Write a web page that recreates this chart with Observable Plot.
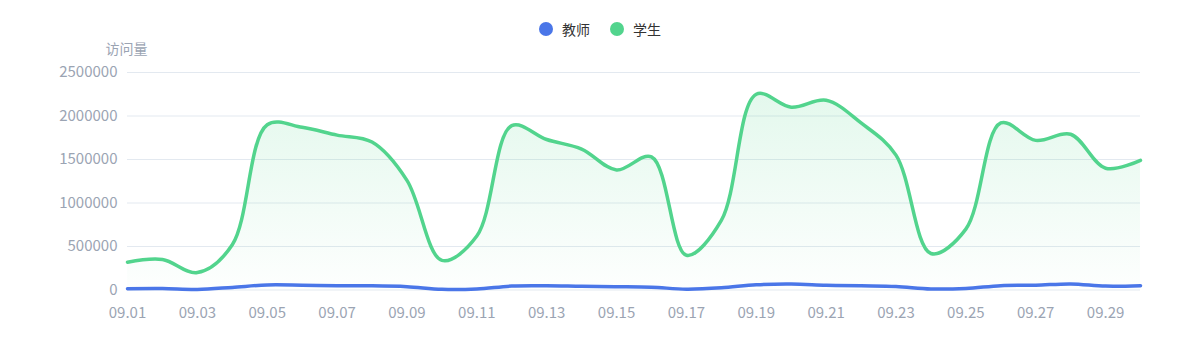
<!DOCTYPE html>
<html>
<head>
<meta charset="utf-8">
<script src="https://cdn.jsdelivr.net/npm/d3@7"></script>
<script src="https://cdn.jsdelivr.net/npm/@observablehq/plot@0.6"></script>
<style>
  html, body { margin: 0; padding: 0; background: #fff; }
  body { width: 1200px; height: 360px; overflow: hidden; font-family: "Noto Sans CJK SC", "Noto Sans", sans-serif; }
  #legend { height: 36px; display: flex; justify-content: center; align-items: flex-start; box-sizing: border-box; font-size: 14px; color: #333; }
  .item { display: flex; align-items: center; margin: 0 10px; margin-top: 22px; height: 14px; line-height: 14px; }
  .dot { width: 14px; height: 14px; border-radius: 50%; margin-right: 9px; }
</style>
</head>
<body>
<div id="legend"></div>
<div id="chart"></div>
<script>
const dates = ["09.01","09.02","09.03","09.04","09.05","09.06","09.07","09.08","09.09","09.10",
               "09.11","09.12","09.13","09.14","09.15","09.16","09.17","09.18","09.19","09.20",
               "09.21","09.22","09.23","09.24","09.25","09.26","09.27","09.28","09.29","09.30"];
const teacher = [14000,16000,6000,30000,58000,55000,48000,48000,38000,8000,
                 12000,45000,48000,42000,38000,32000,10000,25000,60000,68000,
                 55000,48000,40000,12000,18000,50000,55000,70000,45000,50000];
const student = [320000,350000,200000,520000,1900000,1870000,1780000,1700000,1260000,340000,
                 620000,1890000,1730000,1620000,1380000,1530000,400000,800000,2250000,2100000,
                 2180000,1920000,1550000,420000,700000,1920000,1720000,1790000,1400000,1490000];
const seriesNames = ["教师", "学生"];
const seriesColors = ["#4a76e8", "#52d48d"];
const yTicks = [0, 500000, 1000000, 1500000, 2000000, 2500000];
const xTickIdx = dates.map((d, i) => i).filter(i => i % 2 === 0);

const legend = document.getElementById("legend");
seriesNames.forEach((n, i) => {
  const it = document.createElement("div");
  it.className = "item";
  it.innerHTML = `<span class="dot" style="background:${seriesColors[i]}"></span><span>${n}</span>`;
  legend.appendChild(it);
});

const rowsT = dates.map((d, i) => ({i, value: teacher[i]}));
const rowsS = dates.map((d, i) => ({i, value: student[i]}));

const plot = Plot.plot({
  width: 1200,
  height: 324,
  marginLeft: 127,
  marginRight: 60,
  marginTop: 36,
  marginBottom: 70.5,
  style: {fontFamily: '"Noto Sans CJK SC", "Noto Sans", sans-serif', fontSize: "15px", color: "#9ba4b3", background: "#fff"},
  x: {type: "linear", domain: [0, dates.length - 1], ticks: xTickIdx, tickFormat: i => dates[i], tickSize: 0, tickPadding: 17, label: null},
  y: {domain: [0, 2500000], ticks: yTicks, tickFormat: d => String(d), tickSize: 0, tickPadding: 10, label: null},
  marks: [
    Plot.gridY(yTicks, {stroke: "#e3e9f0", strokeOpacity: 1, strokeWidth: 1}),
    Plot.areaY(rowsS, {x: "i", y: "value", curve: "catmull-rom", fill: "url(#gradS)"}),
    Plot.lineY(rowsT, {x: "i", y: "value", curve: "catmull-rom", stroke: seriesColors[0], strokeWidth: 3.5}),
    Plot.lineY(rowsS, {x: "i", y: "value", curve: "catmull-rom", stroke: seriesColors[1], strokeWidth: 3.5}),
    Plot.text(["访问量"], {frameAnchor: "top-left", dx: -22, dy: -28, textAnchor: "start", fill: "#9ba4b3", fontSize: 14})
  ]
});

const svg = d3.select(plot);
const defs = svg.insert("defs", ":first-child");
const g = defs.append("linearGradient").attr("id", "gradS").attr("x1", 0).attr("y1", 0).attr("x2", 0).attr("y2", 1);
g.append("stop").attr("offset", "0%").attr("stop-color", "#52d48d").attr("stop-opacity", 0.16);
g.append("stop").attr("offset", "100%").attr("stop-color", "#52d48d").attr("stop-opacity", 0.01);

document.getElementById("chart").appendChild(plot);
</script>
</body>
</html>
